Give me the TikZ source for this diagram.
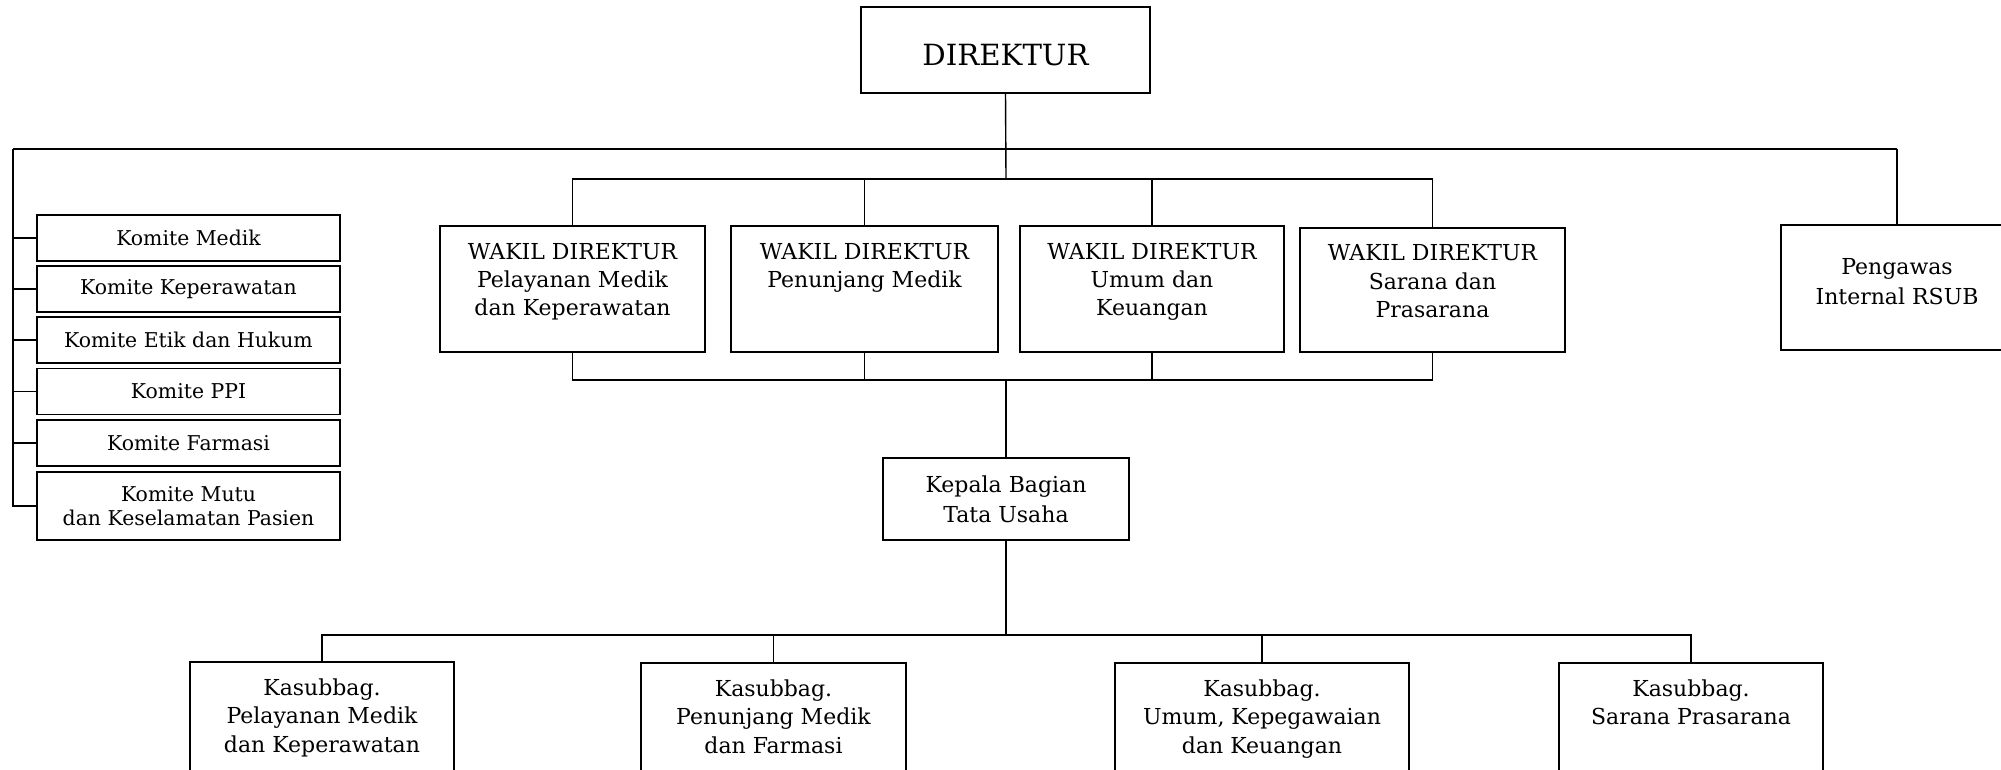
\documentclass[tikz,border=0pt]{standalone}
\usepackage{fontspec}
\setmainfont{DejaVu Serif}
\newcommand\topbox[4][16.5pt]{\parbox[c][#3][t]{#2}{\centering\rule{0pt}{#1}#4\par}}
\begin{document}
\begin{tikzpicture}[x=0.5pt,y=-0.5pt,
  line/.style={line width=0.7pt},
  bx/.style={draw,line width=0.8pt,inner sep=0pt,font=\fontsize{11}{14.25}\selectfont},
  kb/.style={draw,line width=0.8pt,inner sep=0pt,minimum width=151.5pt,minimum height=23pt,align=center,font=\fontsize{10.2}{11.8}\selectfont},
  cb/.style={draw,line width=0.8pt,inner sep=0pt,align=center,font=\fontsize{11}{14.5}\selectfont}]
\useasboundingbox (0,0) rectangle (2001,770);

% Direktur
\node[draw,line width=0.8pt,inner sep=0pt,minimum width=144.5pt,minimum height=43pt,text height=16pt,text depth=0pt,font=\fontsize{14.6}{17}\selectfont] (dir) at (1005.5,50) {DIREKTUR};

% Komite
\node[kb] (k1) at (188.5,238) {Komite Medik};
\node[kb] (k2) at (188.5,289) {Komite Keperawatan};
\node[kb] (k3) at (188.5,340) {Komite Etik dan Hukum};
\node[kb] (k4) at (188.5,391.5) {Komite PPI};
\node[kb] (k5) at (188.5,443) {Komite Farmasi};
\node[kb,minimum height=34pt] (k6) at (188.5,506) {Komite Mutu\\dan Keselamatan Pasien};

% Wakil direktur
\node[bx] (w1) at (572.5,289) {\topbox{132.5pt}{63pt}{WAKIL DIREKTUR\\Pelayanan Medik\\dan Keperawatan}};
\node[bx] (w2) at (864.5,289) {\topbox{133.5pt}{63pt}{WAKIL DIREKTUR\\Penunjang Medik}};
\node[bx] (w3) at (1152,289) {\topbox{132pt}{63pt}{WAKIL DIREKTUR\\Umum dan\\Keuangan}};
\node[bx] (w4) at (1432.5,290) {\topbox{132.5pt}{62pt}{WAKIL DIREKTUR\\Sarana dan\\Prasarana}};

% Pengawas
\node[bx,font=\fontsize{11}{14.5}\selectfont] (peng) at (1897,287.5) {\topbox[25pt]{116pt}{62.5pt}{Pengawas\\Internal RSUB}};

% Kepala bagian
\node[cb,minimum width=123pt,minimum height=41pt,font=\fontsize{11}{15}\selectfont] (kep) at (1006,499) {Kepala Bagian\\Tata Usaha};

% Kasubbag
\node[bx] (s1) at (322,731) {\topbox{132pt}{69pt}{Kasubbag.\\Pelayanan Medik\\dan Keperawatan}};
\node[bx] (s2) at (773.5,732) {\topbox{132.5pt}{69pt}{Kasubbag.\\Penunjang Medik\\dan Farmasi}};
\node[bx] (s3) at (1262,732) {\topbox{147pt}{69pt}{Kasubbag.\\Umum, Kepegawaian\\dan Keuangan}};
\node[bx] (s4) at (1691,732) {\topbox{132pt}{69pt}{Kasubbag.\\Sarana Prasarana}};

% connectors
\coordinate (tl) at (13,149);
\coordinate (tr) at (1897,149);
\coordinate (wb) at (1006,179);
\coordinate (bb) at (1006,380);
\coordinate (sb) at (1006,635);

\draw[line] (dir.south) -- (wb);
\draw[line] (tl) -- (tr);
\draw[line] (tr) -- (peng.north);
\draw[line] (tl) |- (k6.west);
\foreach \k in {k1,k2,k3,k4,k5} \draw[line] (\k.west) -- (\k.west -| tl);

\draw[line] (w1.north) -- (w1.north |- wb) -- (w4.north |- wb) -- (w4.north);
\draw[line] (w2.north) -- (w2.north |- wb);
\draw[line] (w3.north) -- (w3.north |- wb);

\draw[line] (w1.south) -- (w1.south |- bb) -- (w4.south |- bb) -- (w4.south);
\draw[line] (w2.south) -- (w2.south |- bb);
\draw[line] (w3.south) -- (w3.south |- bb);
\draw[line] (bb) -- (kep.north);

\draw[line] (kep.south) -- (sb);
\draw[line] (s1.north) -- (s1.north |- sb) -- (s4.north |- sb) -- (s4.north);
\draw[line] (s2.north) -- (s2.north |- sb);
\draw[line] (s3.north) -- (s3.north |- sb);
\end{tikzpicture}
\end{document}
